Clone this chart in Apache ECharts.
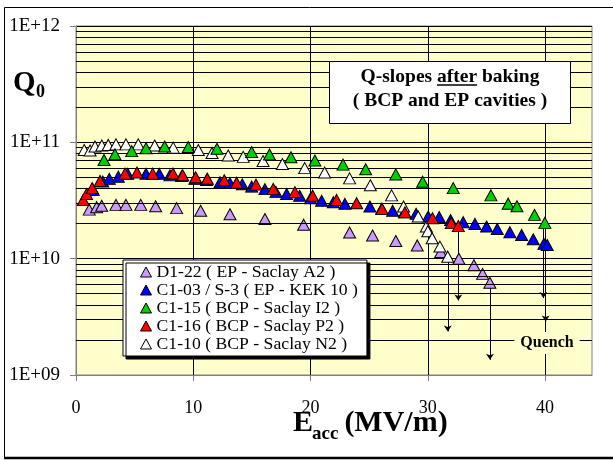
<!DOCTYPE html>
<html>
<head>
<meta charset="utf-8">
<script src="https://cdn.jsdelivr.net/npm/echarts/dist/echarts.min.js"></script>
<style>
  html, body { margin: 0; padding: 0; background: #fff; }
  #chart { width: 613px; height: 460px; }
</style>
</head>
<body>
<div id="chart"></div>
<script>
// Eacc (MV/m) and Q0, one pair of arrays per cavity
const d122E = [1.13, 1.76, 2.19, 3.41, 4.26, 5.52, 6.79, 8.58, 10.63, 13.13, 16.11, 19.41, 23.33, 25.29, 27.27, 29.1, 31.1, 32.65, 33.93, 34.67, 35.29];
const d122Q = [2.64e10, 2.77e10, 2.85e10, 2.9e10, 2.9e10, 2.9e10, 2.82e10, 2.72e10, 2.58e10, 2.41e10, 2.19e10, 1.96e10, 1.68e10, 1.58e10, 1.42e10, 1.30e10, 1.14e10, 1.0e10, 8.78e9, 7.4e9, 6.2e9];

const c103E = [1.47, 2.28, 2.84, 3.61, 4.41, 5.97, 7.10, 8.01, 9.01, 10.14, 11.14, 12.28, 13.13, 14.18, 14.98, 16.11, 17.05, 17.96, 19.07, 20.0, 20.95, 21.94, 22.93, 25.06, 26.06, 27.0, 28.0, 29.0, 30.03, 30.97, 31.94, 33.02, 34.02, 35.01, 35.92, 37.0, 38.0, 38.99, 39.9, 40.18];
const c103Q = [3.9e10, 4.6e10, 4.85e10, 5.07e10, 5.36e10, 5.36e10, 5.36e10, 5.2e10, 5.14e10, 4.85e10, 4.75e10, 4.54e10, 4.46e10, 4.35e10, 4.16e10, 3.96e10, 3.75e10, 3.6e10, 3.47e10, 3.3e10, 3.14e10, 3.05e10, 2.96e10, 2.81e10, 2.68e10, 2.58e10, 2.5e10, 2.43e10, 2.3e10, 2.28e10, 2.15e10, 2.06e10, 1.99e10, 1.89e10, 1.8e10, 1.69e10, 1.6e10, 1.47e10, 1.34e10, 1.31e10];

const c115E = [2.39, 3.32, 4.75, 5.97, 7.56, 9.57, 12.02, 14.98, 16.5, 18.33, 20.37, 22.77, 24.7, 27.27, 29.56, 32.17, 35.38, 36.85, 37.6, 39.1, 39.98];
const c115Q = [7.06e10, 7.9e10, 8.4e10, 8.9e10, 9.2e10, 9.1e10, 8.8e10, 8.25e10, 7.85e10, 7.45e10, 6.97e10, 6.43e10, 5.87e10, 5.3e10, 4.59e10, 4.04e10, 3.5e10, 2.97e10, 2.82e10, 2.38e10, 2.03e10];

const c116E = [0.62, 0.9, 1.38, 2.05, 4.18, 5.2, 6.54, 8.27, 9.1, 10.2, 11.2, 12.64, 13.7, 15.35, 16.82, 18.67, 20.18, 22.22, 23.93, 26.1, 28.05, 30.4, 32.0, 32.6];
const c116Q = [3.2e10, 3.6e10, 4.04e10, 4.66e10, 5.38e10, 5.5e10, 5.38e10, 5.4e10, 5.21e10, 5.01e10, 4.87e10, 4.72e10, 4.5e10, 4.33e10, 3.98e10, 3.73e10, 3.48e10, 3.2e10, 3.0e10, 2.68e10, 2.5e10, 2.23e10, 2.02e10, 1.91e10];

const c110E = [0.7, 1.2, 1.62, 2.2, 2.75, 3.41, 4.26, 5.31, 6.71, 8.29, 10.43, 11.6, 12.98, 14.26, 15.95, 17.6, 19.5, 21.2, 23.33, 25.1, 26.91, 27.93, 29.18, 29.87, 30.0, 30.37, 31.03, 31.7];
const c110Q = [8.6e10, 8.5e10, 9.2e10, 9.4e10, 9.5e10, 9.6e10, 9.6e10, 9.6e10, 9.4e10, 9.0e10, 8.6e10, 8.1e10, 7.7e10, 7.5e10, 6.9e10, 6.5e10, 6.0e10, 5.5e10, 4.9e10, 4.27e10, 3.5e10, 2.81e10, 2.3e10, 1.89e10, 1.72e10, 1.5e10, 1.27e10, 1.04e10];

// quench arrows: field, start and end of each arrow
const quenchE = [31.7, 32.6, 35.3, 39.85, 40.05];
const quenchFrom = [1.04e10, 1.91e10, 6.2e9, 2.03e10, 1.31e10];
const quenchTo = [2.37e9, 4.37e9, 1.35e9, 4.58e9, 2.88e9];

const xTicks = [0, 10, 20, 30, 40];
const yTickLabels = ['1E+09', '1E+10', '1E+11', '1E+12'];

const titleLine1 = 'Q-slopes after baking';
const titleLine2 = '( BCP and EP cavities )';

const serif = '"Liberation Serif", "Times New Roman", serif';
const chart = echarts.init(document.getElementById('chart'));

const cavities = [
    { name: 'D1-22 ( EP - Saclay A2 )', e: d122E, q: d122Q, color: '#CC99FF', z: 3 },
    { name: 'C1-03 / S-3 ( EP - KEK 10 )', e: c103E, q: c103Q, color: '#0000FF', z: 4 },
    { name: 'C1-15 ( BCP - Saclay I2 )', e: c115E, q: c115Q, color: '#00D000', z: 7 },
    { name: 'C1-16 ( BCP - Saclay P2 )', e: c116E, q: c116Q, color: '#FF0000', z: 6 },
    { name: 'C1-10 ( BCP - Saclay N2 )', e: c110E, q: c110Q, color: '#FFFFFF', z: 5 }
];

// log minor grid lines (2..9 in every decade)
const minorLines = [];
for (let d = 9; d < 12; d++) {
    for (let m = 2; m <= 9; m++) minorLines.push({ yAxis: m * Math.pow(10, d) });
}

// measure the title to place the underline under "after"
const ctx = document.createElement('canvas').getContext('2d');
const titleFont = 'bold 19.5px ' + serif;
ctx.font = titleFont;
const titleCx = 450;
const fullW = ctx.measureText(titleLine1).width;
const preW = ctx.measureText('Q-slopes ').width;
const afterW = ctx.measureText('after').width;
const ulX = titleCx - fullW / 2 + preW;

ctx.font = 'bold 30px ' + serif;
const eW = ctx.measureText('E').width;
ctx.font = 'bold 19px ' + serif;
const accW = ctx.measureText('acc').width;

const series = cavities.map(c => ({
    name: c.name,
    type: 'scatter',
    z: c.z,
    symbol: 'triangle',
    symbolSize: [12, 11],
    itemStyle: { color: c.color, borderColor: '#000', borderWidth: 1, opacity: 1 },
    data: c.e.map((x, i) => [x, c.q[i]])
}));

series.push({
    name: 'minor',
    type: 'scatter',
    z: 1,
    data: [],
    markLine: {
        silent: true,
        symbol: 'none',
        animation: false,
        label: { show: false },
        lineStyle: { color: '#000', width: 1, type: 'solid' },
        data: minorLines
    }
});

series.push({
    name: 'quench',
    type: 'lines',
    coordinateSystem: 'cartesian2d',
    z: 2,
    symbol: ['none', 'arrow'],
    symbolSize: [4, 6],
    lineStyle: { color: '#000', width: 1, opacity: 1 },
    data: quenchE.map((x, i) => ({ coords: [[x, quenchFrom[i]], [x, quenchTo[i]]] }))
});

const option = {
    animation: false,
    grid: {
        left: 76, top: 26, right: 21, bottom: 85,
        show: true, backgroundColor: '#FFFFCC', borderColor: '#808080', borderWidth: 1
    },
    legend: {
        data: cavities.map(c => c.name),
        z: 40,
        orient: 'vertical',
        left: 123, top: 260,
        itemGap: 0,
        itemWidth: 11, itemHeight: 10,
        padding: [3, 9, 3, 17],
        backgroundColor: '#fff',
        borderColor: '#000', borderWidth: 1,
        shadowColor: '#000', shadowOffsetX: 3, shadowOffsetY: 3, shadowBlur: 0,
        itemStyle: { borderColor: '#000', borderWidth: 1 },
        textStyle: { fontFamily: serif, fontSize: 17.7, color: '#000', lineHeight: 15.6 }
    },
    xAxis: {
        type: 'value', min: 0, max: 44, interval: 2,
        axisLine: { lineStyle: { color: '#808080' } },
        axisTick: { show: true, length: 6, customValues: xTicks, lineStyle: { color: '#808080' } },
        axisLabel: { customValues: xTicks, fontFamily: serif, fontSize: 18, color: '#000', margin: 24 },
        splitLine: { show: true, lineStyle: { color: '#000', width: 1 } }
    },
    yAxis: {
        type: 'log', logBase: 10, min: 1e9, max: 1e12,
        axisLine: { show: true, lineStyle: { color: '#808080' } },
        axisTick: { show: true, length: 6, lineStyle: { color: '#808080' } },
        axisLabel: {
            fontFamily: serif, fontSize: 19, color: '#000', margin: 16,
            formatter: v => yTickLabels[Math.round(Math.log10(v)) - 9]
        },
        splitLine: { show: true, lineStyle: { color: '#000', width: 1 } }
    },
    graphic: [
        // outer frame
        { type: 'rect', shape: { x: 4.5, y: 7.5, width: 640, height: 450 }, style: { fill: 'none', stroke: '#000', lineWidth: 1 }, silent: true },
        { type: 'line', shape: { x1: 4, y1: 458, x2: 613, y2: 458 }, style: { stroke: '#000', lineWidth: 2.5 }, silent: true },
        // title box
        { type: 'rect', z: 20, shape: { x: 329.5, y: 61.5, width: 241, height: 62 }, style: { fill: '#fff', stroke: '#000', lineWidth: 1 } },
        { type: 'text', z: 21, x: titleCx, y: 77, style: { text: titleLine1, font: titleFont, fill: '#000', align: 'center', verticalAlign: 'middle' } },
        { type: 'line', z: 21, shape: { x1: ulX, y1: 85, x2: ulX + afterW, y2: 85 }, style: { stroke: '#000', lineWidth: 1.5 } },
        { type: 'text', z: 21, x: titleCx, y: 101, style: { text: titleLine2, font: titleFont, fill: '#000', align: 'center', verticalAlign: 'middle' } },
        // y axis name Q0
        { type: 'text', x: 13, y: 84, style: { text: 'Q', font: 'bold 29px ' + serif, fill: '#000', verticalAlign: 'middle' } },
        { type: 'text', x: 36, y: 92, style: { text: '0', font: 'bold 18px ' + serif, fill: '#000', verticalAlign: 'middle' } },
        // x axis name Eacc (MV/m)
        { type: 'text', x: 293, y: 423, style: { text: 'E', font: 'bold 30px ' + serif, fill: '#000', verticalAlign: 'middle' } },
        { type: 'text', x: 293 + eW - 1, y: 434, style: { text: 'acc', font: 'bold 19px ' + serif, fill: '#000', verticalAlign: 'middle' } },
        { type: 'text', x: 293 + eW + accW + 5, y: 423, style: { text: '(MV/m)', font: 'bold 30px ' + serif, fill: '#000', verticalAlign: 'middle' } },
        // quench annotation
        { type: 'text', z: 20, x: 547, y: 343, style: { text: 'Quench', font: 'bold 16px ' + serif, fill: '#000', align: 'center', verticalAlign: 'middle', backgroundColor: '#FFFFCC', padding: [3, 6] } }
    ],
    series: series
};

chart.setOption(option);
</script>
</body>
</html>
